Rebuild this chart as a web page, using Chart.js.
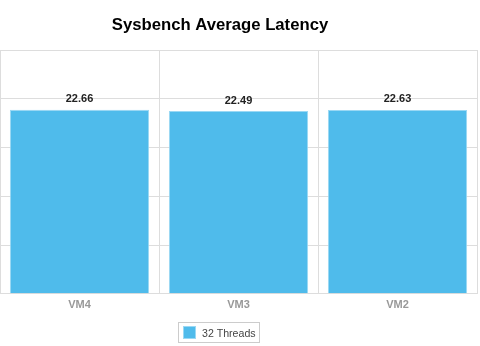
<!DOCTYPE html>
<html>
<head>
<meta charset="utf-8">
<script src="https://cdn.jsdelivr.net/npm/chart.js@4/dist/chart.umd.min.js"></script>
<style>
    html, body { margin: 0; padding: 0; background: #ffffff; }
    #wrap { width: 480px; height: 346px; position: relative; }
</style>
</head>
<body>
<div id="wrap"><canvas id="graficoLatencia"></canvas></div>
<script>
// Datos del gráfico
const categorias = ['VM4', 'VM3', 'VM2'];
const latencias = [22.66, 22.49, 22.63];
const nombreSerie = '32 Threads';
const tituloGrafico = 'Sysbench Average Latency';
const ejeMax = 30;
const ejePaso = 6;

const colorBarra = '#4fbbeb';
const colorBordeBarra = '#9ad8f4';
const colorRejilla = '#dddddd';
const fuente = '"Liberation Sans", Arial, sans-serif';

// Título dibujado a mano (el original no está centrado en el lienzo)
const pluginTitulo = {
    id: 'tituloFijo',
    afterDraw(chart) {
        const ctx = chart.ctx;
        ctx.save();
        ctx.font = 'bold 16.7px ' + fuente;
        ctx.fillStyle = '#000000';
        ctx.textAlign = 'center';
        ctx.textBaseline = 'alphabetic';
        ctx.fillText(tituloGrafico, 220, 30);
        ctx.restore();
    }
};

// Valores encima de cada barra
const pluginValores = {
    id: 'valoresBarras',
    afterDatasetsDraw(chart) {
        const ctx = chart.ctx;
        ctx.save();
        ctx.font = 'bold 11px ' + fuente;
        ctx.fillStyle = '#222222';
        ctx.textAlign = 'center';
        ctx.textBaseline = 'alphabetic';
        chart.getDatasetMeta(0).data.forEach((barra, i) => {
            ctx.fillText(latencias[i].toFixed(2), barra.x, barra.y - 7.5);
        });
        ctx.restore();
    }
};

// Leyenda con recuadro
const pluginLeyenda = {
    id: 'leyendaCaja',
    afterDraw(chart) {
        const ctx = chart.ctx;
        ctx.save();
        ctx.strokeStyle = '#cccccc';
        ctx.lineWidth = 1;
        ctx.strokeRect(178.5, 322.5, 81, 20);
        ctx.fillStyle = colorBarra;
        ctx.fillRect(183, 326, 13, 13);
        ctx.strokeStyle = colorBordeBarra;
        ctx.strokeRect(183.5, 326.5, 12, 12);
        ctx.font = '10.6px ' + fuente;
        ctx.fillStyle = '#444444';
        ctx.textAlign = 'left';
        ctx.textBaseline = 'alphabetic';
        ctx.fillText(nombreSerie, 202, 336.5);
        ctx.restore();
    }
};

new Chart(document.getElementById('graficoLatencia'), {
    type: 'bar',
    data: {
        labels: categorias,
        datasets: [{
            label: nombreSerie,
            data: latencias,
            backgroundColor: colorBarra,
            borderColor: colorBordeBarra,
            borderWidth: 1,
            categoryPercentage: 1,
            barPercentage: 0.876
        }]
    },
    options: {
        responsive: true,
        maintainAspectRatio: false,
        animation: false,
        layout: { padding: { top: 50, left: 0, right: 3, bottom: 29 } },
        plugins: {
            legend: { display: false },
            title: { display: false },
            tooltip: { enabled: false }
        },
        scales: {
            y: {
                min: 0,
                max: ejeMax,
                ticks: { display: false, stepSize: ejePaso },
                grid: { color: colorRejilla, drawTicks: false },
                border: { display: false }
            },
            x: {
                grid: { color: colorRejilla, drawTicks: false, offset: true },
                border: { color: colorRejilla },
                ticks: {
                    color: '#999999',
                    padding: 5,
                    font: { family: fuente, size: 11, weight: 'bold' }
                }
            }
        }
    },
    plugins: [pluginTitulo, pluginValores, pluginLeyenda]
});
</script>
</body>
</html>
